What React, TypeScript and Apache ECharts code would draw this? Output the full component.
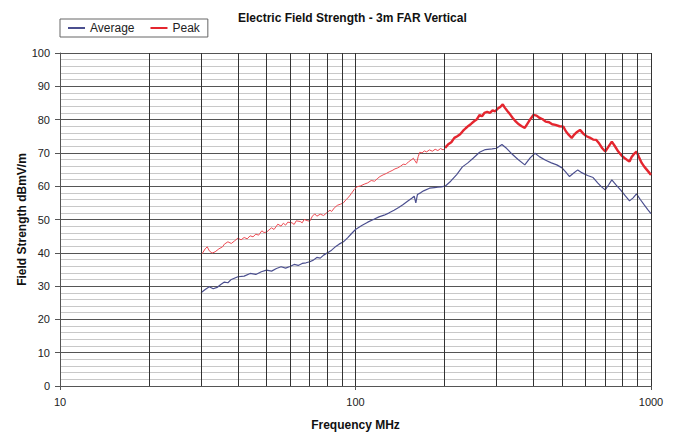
import React, { useEffect, useRef } from "react";
import * as echarts from "echarts";

const titleText = "Electric Field Strength - 3m FAR Vertical";
const xAxisName = "Frequency MHz";
const yAxisName = "Field Strength dBmV/m";
const yTicks = [0, 10, 20, 30, 40, 50, 60, 70, 80, 90, 100];
const xLabels = [10, 100, 1000];
const xGridValues = [20, 30, 40, 50, 60, 70, 80, 90, 200, 300, 400, 500, 600, 700, 800, 900];

const avgFreq = [30, 31, 32, 33, 34, 35, 36, 37, 38, 40, 42, 44, 46, 48, 50, 52, 54, 56, 58, 60, 62, 64, 66, 68, 70, 72, 74, 76, 78, 80, 83, 86, 88, 91, 94, 97, 100, 105, 110, 115, 120, 125, 130, 135, 140, 145, 150, 155, 158, 160, 162, 166, 170, 178, 185, 190, 195, 201, 210, 220, 230, 240, 250, 263, 275, 290, 300, 313, 325, 340, 355, 374, 390, 405, 420, 440, 460, 480, 500, 515, 530, 545, 565, 585, 610, 637, 660, 680, 700, 720, 737, 760, 790, 820, 846, 870, 893, 920, 950, 975, 1000];
const avgVal = [28.0, 29.0, 29.8, 29.2, 29.6, 30.5, 31.2, 31.0, 32.0, 32.8, 33.0, 33.8, 33.5, 34.3, 34.8, 34.5, 35.3, 35.8, 35.4, 35.9, 36.5, 36.2, 36.8, 37.0, 37.3, 37.8, 38.6, 38.4, 39.3, 39.9, 40.8, 42.0, 42.6, 43.3, 44.5, 45.8, 47.0, 48.2, 49.2, 50.0, 50.8, 51.3, 52.0, 52.8, 53.6, 54.5, 55.5, 56.4, 57.0, 55.0, 57.5, 58.0, 58.6, 59.4, 59.6, 59.7, 59.8, 60.0, 61.5, 63.5, 65.8, 67.0, 68.4, 70.2, 71.0, 71.2, 71.4, 72.5, 71.3, 69.5, 68.0, 66.4, 68.5, 69.9, 68.8, 67.8, 67.0, 66.4, 65.5, 64.2, 62.9, 63.8, 64.9, 64.0, 63.2, 62.6, 61.0, 59.8, 58.9, 60.5, 61.9, 60.5, 58.8, 57.0, 55.6, 56.5, 57.7, 56.0, 54.3, 53.0, 51.8];

const peakFreqLow = [30, 30.5, 31, 31.5, 32, 32.7, 33.5, 34.5, 35.5, 36, 37, 38, 39, 40, 41, 42, 43, 44, 45, 46, 47, 48.2, 49, 50, 51, 52, 53, 54.6, 56, 57, 58, 59, 61, 62, 63, 65, 66, 67, 69, 70, 71.5, 72.8, 74, 76, 78, 80.6, 82, 83, 85, 87, 89, 91, 93, 95, 97, 99, 101, 104, 107, 110, 113, 116, 119, 121, 124, 127, 130, 133, 136, 139, 142, 145, 148, 151, 154, 157, 159, 161, 163, 165, 168, 171, 174, 178, 182, 186, 190, 194, 198, 201];
const peakValLow = [39.3, 40.2, 41.2, 41.8, 40.6, 39.9, 40.3, 41.2, 41.8, 42.6, 43.3, 42.8, 43.6, 44.4, 43.9, 44.6, 44.2, 45.1, 44.8, 45.6, 45.3, 46.6, 46.1, 46.2, 46.9, 47.5, 47.0, 48.6, 48.0, 48.9, 48.3, 49.2, 49.0, 48.5, 49.6, 49.4, 49.0, 50.0, 49.6, 49.5, 51.0, 51.7, 51.0, 51.6, 51.2, 52.3, 52.8, 52.4, 53.6, 54.3, 54.6, 55.0, 56.0, 56.8, 57.9, 59.0, 59.8, 60.1, 60.6, 61.0, 61.7, 61.5, 62.4, 62.9, 63.4, 63.8, 64.3, 64.7, 65.2, 65.5, 66.0, 66.6, 66.5, 67.3, 67.8, 68.4, 67.6, 66.9, 68.9, 70.2, 70.0, 70.6, 70.3, 70.9, 70.5, 71.1, 70.7, 71.3, 70.9, 71.5];

const peakFreqHigh = [201, 206, 211, 216, 221, 226, 231, 236, 241, 246, 252, 257, 263, 268, 273, 279, 285, 291, 297, 303, 309, 315, 320, 327, 334, 341, 349, 357, 365, 374, 382, 391, 400, 410, 420, 430, 440, 452, 463, 475, 490, 505, 515, 527, 539, 550, 562, 575, 590, 605, 620, 637, 653, 668, 684, 700, 718, 737, 755, 775, 795, 815, 830, 846, 860, 876, 893, 910, 930, 950, 975, 1000];
const peakValHigh = [71.5, 72.6, 73.2, 74.5, 75.0, 75.6, 76.6, 77.4, 78.1, 78.7, 79.5, 80.0, 81.4, 81.0, 82.0, 82.3, 82.0, 82.8, 82.5, 83.3, 83.8, 84.6, 83.6, 82.5, 81.5, 80.4, 79.4, 78.6, 78.0, 77.5, 78.8, 80.2, 81.4, 81.2, 80.5, 80.1, 79.4, 79.2, 78.6, 78.4, 78.0, 77.9, 76.5, 75.4, 74.5, 75.5, 76.3, 76.9, 75.8, 75.0, 74.6, 74.0, 73.9, 72.8, 71.4, 70.4, 71.9, 73.4, 72.0, 70.4, 69.2, 68.4, 67.9, 67.4, 68.8, 69.7, 70.4, 68.8, 67.0, 65.8, 64.6, 63.4];

const zip = (xs: number[], ys: number[]) => xs.map((x, i) => [x, ys[i]]);

const FONT = "'Liberation Sans', Arial, sans-serif";
const BLUE = "#4b4f8f";
const RED = "#e4262f";

export default function App() {
  const ref = useRef<HTMLDivElement>(null);
  useEffect(() => {
    if (!ref.current) return;
    const chart = echarts.init(ref.current, undefined, { renderer: "svg" });
    chart.setOption({
      animation: false,
      backgroundColor: "#ffffff",
      textStyle: { fontFamily: FONT },
      title: {
        text: titleText,
        left: 233,
        top: 7,
        textStyle: { fontSize: 12, fontWeight: "bold", color: "#111", fontFamily: FONT },
      },
      legend: {
        data: ["Average", "Peak"],
        left: 60,
        top: 19,
        orient: "horizontal",
        borderColor: "#666",
        borderWidth: 1,
        padding: [3, 8, 3, 8],
        itemGap: 16,
        itemWidth: 17,
        itemHeight: 2,
        icon: "rect",
        textStyle: { fontSize: 12, color: "#222", fontFamily: FONT },
      },
      grid: { left: 60, right: 28, top: 53, bottom: 50 },
      xAxis: {
        type: "log",
        logBase: 10,
        min: 10,
        max: 1000,
        name: xAxisName,
        nameLocation: "middle",
        nameGap: 33,
        nameMoveOverlap: false,
        nameTextStyle: { fontSize: 12, fontWeight: "bold", color: "#111", fontFamily: FONT },
        axisLine: { show: true, lineStyle: { color: "#555", width: 1 } },
        axisTick: { show: true, length: 4, lineStyle: { color: "#555" } },
        axisLabel: {
          fontSize: 11,
          color: "#222",
          margin: 10,
          fontFamily: FONT,
          formatter: (v: number) => {
            const r = Math.round(v);
            return xLabels.includes(r) ? String(r) : "";
          },
        },
        splitLine: { show: true, lineStyle: { color: "#333", width: 1 } },
        minorTick: { show: false },
        minorSplitLine: { show: false },
      },
      yAxis: {
        type: "value",
        min: 0,
        max: 100,
        interval: 10,
        name: yAxisName,
        nameLocation: "middle",
        nameGap: 32,
        nameMoveOverlap: false,
        nameTextStyle: { fontSize: 12, fontWeight: "bold", color: "#111", fontFamily: FONT },
        axisLine: { show: true, lineStyle: { color: "#555", width: 1 } },
        axisTick: { show: true, length: 5, lineStyle: { color: "#555" } },
        axisLabel: {
          fontSize: 11,
          color: "#222",
          margin: 10,
          fontFamily: FONT,
          formatter: (v: number) => (yTicks.includes(v) ? String(v) : ""),
        },
        splitLine: { show: true, lineStyle: { color: "#555", width: 1 } },
        minorTick: { show: false, splitNumber: 5 },
        minorSplitLine: { show: true, lineStyle: { color: "#c8c8c8", width: 1 } },
      },
      series: [
        {
          name: "grid",
          type: "line",
          data: [],
          silent: true,
          markLine: {
            silent: true,
            symbol: "none",
            label: { show: false },
            lineStyle: { color: "#333", width: 1, type: "solid" },
            data: xGridValues.map((v) => ({ xAxis: v })),
          },
          z: 1,
        },
        {
          name: "Average",
          type: "line",
          data: zip(avgFreq, avgVal),
          showSymbol: false,
          symbol: "none",
          color: BLUE,
          lineStyle: { color: BLUE, width: 1.2 },
          z: 3,
        },
        {
          name: "Peak",
          type: "line",
          data: zip(peakFreqLow, peakValLow),
          showSymbol: false,
          symbol: "none",
          color: RED,
          lineStyle: { color: "#ec4a52", width: 1 },
          z: 4,
        },
        {
          name: "Peak",
          type: "line",
          data: zip(peakFreqHigh, peakValHigh),
          showSymbol: false,
          symbol: "none",
          color: RED,
          lineStyle: { color: RED, width: 2.4 },
          z: 4,
        },
      ],
    });
    return () => chart.dispose();
  }, []);
  return (
    <div
      ref={ref}
      style={{ position: "fixed", left: 0, top: 0, width: 679, height: 436, background: "#fff" }}
    />
  );
}
